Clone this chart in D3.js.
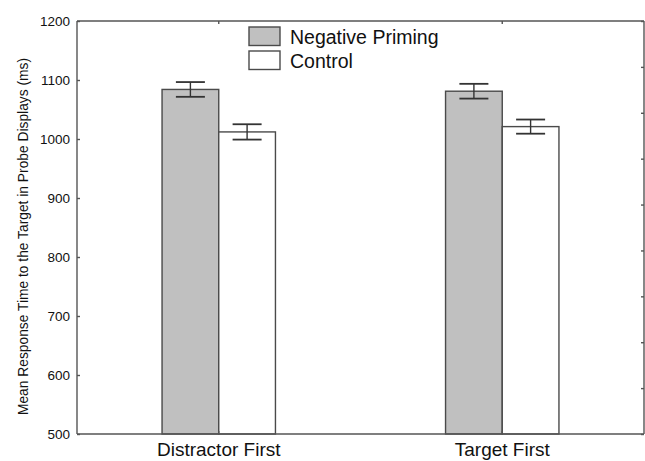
<!DOCTYPE html>
<html>
<head>
<meta charset="utf-8">
<script src="https://cdnjs.cloudflare.com/ajax/libs/d3/7.8.5/d3.min.js"></script>
<style>
	body { margin:0; background:#fff; }
	svg { display:block; font-family: Arial, "Liberation Sans", sans-serif; }
	.frame line { stroke:#555; stroke-width:1.4; }
	.axis path { display:none; }
	.axis line { stroke:#555; stroke-width:1.4; }
	.axis text { fill:#111; }
</style>
</head>
<body>
<svg id="chart"></svg>
<script>
/*************** data *****************/
var categories = ["Distractor First", "Target First"];
var seriesNames = ["Negative Priming", "Control"];
var negativePriming = [1084, 1081];
var negativePrimingErr = [12.5, 12.5];
var control = [1012, 1021];
var controlErr = [13, 12];
var yTicks = [500, 600, 700, 800, 900, 1000, 1100, 1200];

/*************** settings *****************/
var width = 645,
	height = 461,
	margin = {top:21, right:1, bottom:27, left:77},
	fills = ["#c0c0c0", "#ffffff"],
	stroke = "#4a4a4a";

var svg = d3.select("#chart")
	.attr("width", width)
	.attr("height", height);

var x0 = margin.left, x1 = width - margin.right,
	y0 = margin.top, y1 = height - margin.bottom;

/*************** scales *****************/
var x = d3.scaleBand()
	.domain(categories)
	.range([x0, x1])
	.paddingInner(0.6)
	.paddingOuter(0.3);

var xSub = d3.scaleBand()
	.domain(seriesNames)
	.range([0, x.bandwidth()]);

var y = d3.scaleLinear()
	.domain([500, 1200])
	.range([y1, y0]);

// right side has unlabelled ticks on its own spacing
var yRight = d3.scaleLinear()
	.domain([0, 9])
	.range([y1, y0]);

// table built from the arrays
var rows = [];
categories.forEach(function(c, i) {
	rows.push({cat:c, series:seriesNames[0], value:negativePriming[i], err:negativePrimingErr[i]});
	rows.push({cat:c, series:seriesNames[1], value:control[i], err:controlErr[i]});
});

/*************** bars *****************/
var bars = svg.append("g").attr("class", "bars");

bars.selectAll("rect")
	.data(rows)
	.enter().append("rect")
		.attr("x", function(d) { return x(d.cat) + xSub(d.series); })
		.attr("y", function(d) { return y(d.value); })
		.attr("width", xSub.bandwidth())
		.attr("height", function(d) { return y(500) - y(d.value); })
		.attr("fill", function(d) { return fills[seriesNames.indexOf(d.series)]; })
		.attr("stroke", stroke)
		.attr("stroke-width", 1.4);

/*************** error bars *****************/
var capHalf = 14.5;
var err = svg.append("g").attr("class", "errors")
	.selectAll("g")
	.data(rows)
	.enter().append("g")
	.attr("stroke", "#333")
	.attr("stroke-width", 1.8);

function cx(d) { return x(d.cat) + xSub(d.series) + xSub.bandwidth() / 2; }

err.append("line")
	.attr("x1", cx).attr("x2", cx)
	.attr("y1", function(d) { return y(d.value + d.err); })
	.attr("y2", function(d) { return y(d.value - d.err); })
	.attr("stroke-width", 1.4);
err.append("line")
	.attr("x1", function(d) { return cx(d) - capHalf; })
	.attr("x2", function(d) { return cx(d) + capHalf; })
	.attr("y1", function(d) { return y(d.value + d.err); })
	.attr("y2", function(d) { return y(d.value + d.err); });
err.append("line")
	.attr("x1", function(d) { return cx(d) - capHalf; })
	.attr("x2", function(d) { return cx(d) + capHalf; })
	.attr("y1", function(d) { return y(d.value - d.err); })
	.attr("y2", function(d) { return y(d.value - d.err); });

/*************** axes *****************/
var leftAxis = svg.append("g")
	.attr("class", "axis")
	.attr("transform", "translate(" + x0 + ",0)")
	.call(d3.axisLeft(y).tickValues(yTicks).tickFormat(d3.format("d"))
		.tickSizeInner(-3).tickSizeOuter(0).tickPadding(7));
leftAxis.selectAll("text").style("font-size", "13.5px");

svg.append("g")
	.attr("class", "axis")
	.attr("transform", "translate(" + x1 + ",0)")
	.call(d3.axisRight(yRight).ticks(9).tickFormat("").tickSizeInner(-3).tickSizeOuter(0));

svg.append("g")
	.attr("class", "axis")
	.attr("transform", "translate(0," + y0 + ")")
	.call(d3.axisTop(x).tickFormat("").tickSizeInner(-3).tickSizeOuter(0));

// category labels sit low, kept just inside the bottom edge
var bottomAxis = svg.append("g")
	.attr("class", "axis")
	.attr("transform", "translate(0," + y1 + ")")
	.call(d3.axisBottom(x).tickSizeInner(-3).tickSizeOuter(0).tickPadding(9));
bottomAxis.selectAll("text").style("font-size", "19px");

// plot frame
var frame = svg.append("g").attr("class", "frame");
frame.append("line").attr("x1", x0).attr("x2", x1).attr("y1", y0).attr("y2", y0);
frame.append("line").attr("x1", x0).attr("x2", x1).attr("y1", y1).attr("y2", y1);
frame.append("line").attr("x1", x0).attr("x2", x0).attr("y1", y0).attr("y2", y1);
frame.append("line").attr("x1", x1).attr("x2", x1).attr("y1", y0).attr("y2", y1);

// y axis title
svg.append("text")
	.attr("transform", "translate(28," + ((y0 + y1) / 2 + 9) + ") rotate(-90)")
	.attr("text-anchor", "middle")
	.style("font-size", "13.8px")
	.attr("fill", "#111")
	.text("Mean Response Time to the Target in Probe Displays (ms)");

/*************** legend *****************/
var legend = svg.append("g")
	.attr("class", "legend")
	.attr("transform", "translate(249,27)");

var item = legend.selectAll("g")
	.data(seriesNames)
	.enter().append("g")
	.attr("transform", function(d, i) { return "translate(0," + (i * 24) + ")"; });

item.append("rect")
	.attr("width", 31)
	.attr("height", 18.5)
	.attr("fill", function(d, i) { return fills[i]; })
	.attr("stroke", stroke)
	.attr("stroke-width", 1.4);

item.append("text")
	.attr("x", 41)
	.attr("y", 16.5)
	.style("font-size", "19.5px")
	.attr("fill", "#111")
	.text(function(d) { return d; });
</script>
</body>
</html>
